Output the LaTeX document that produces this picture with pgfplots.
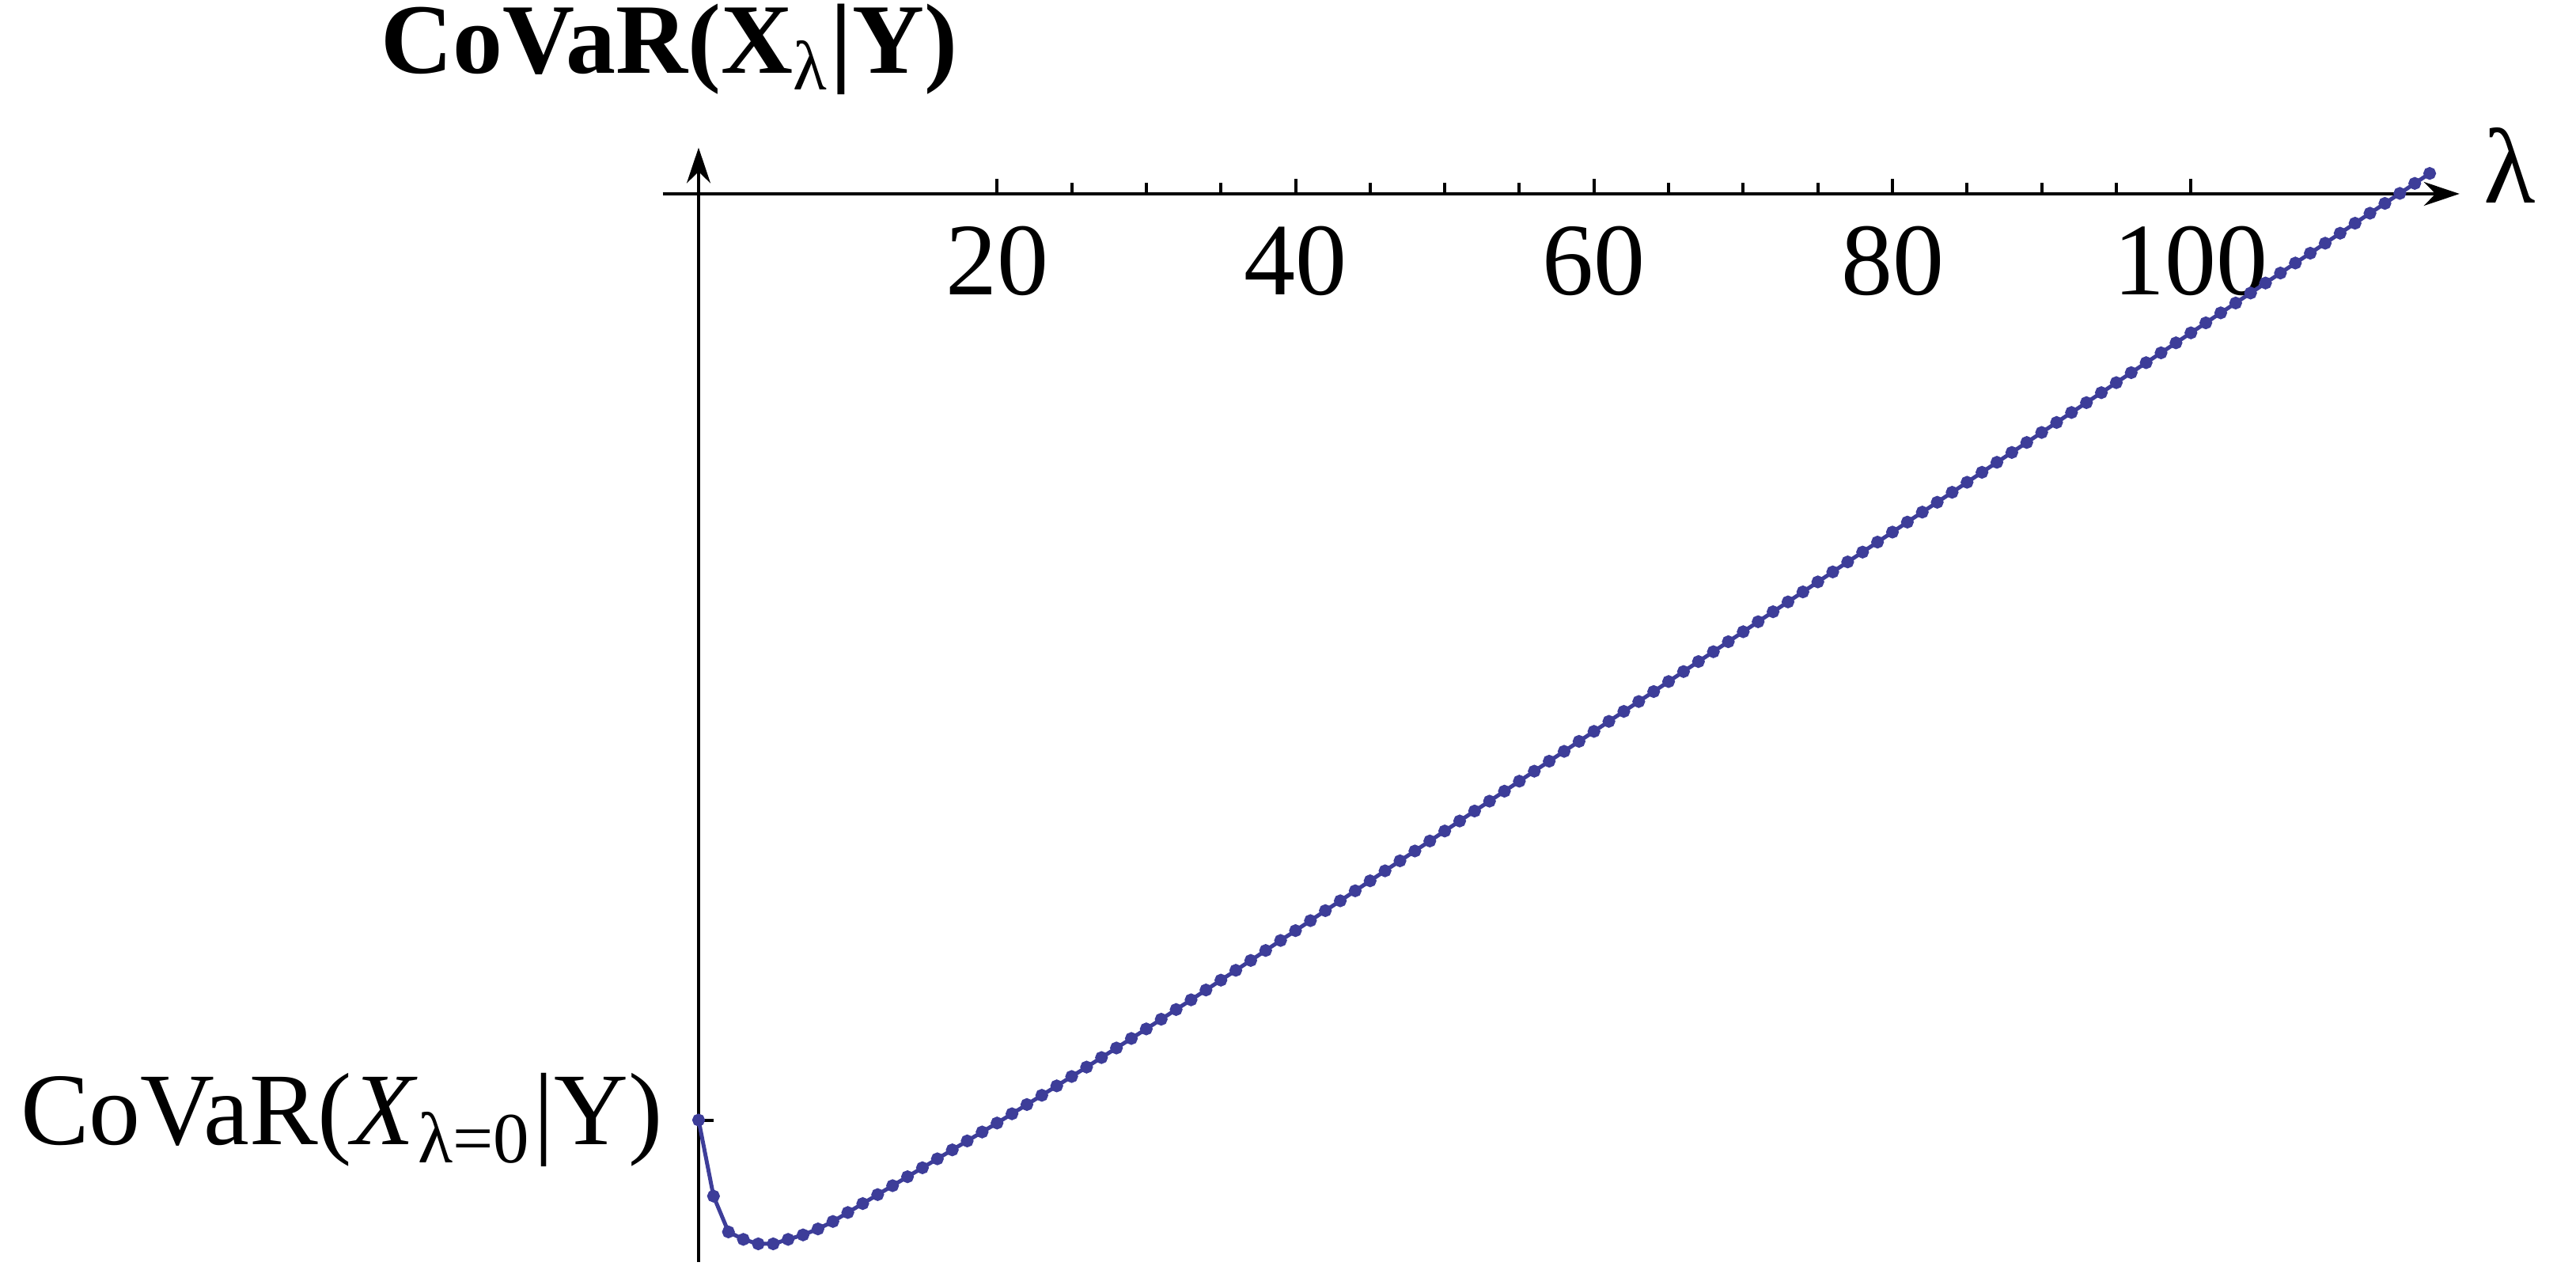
\documentclass[border=0pt]{standalone}
\usepackage{pgfplots}
\pgfplotsset{compat=1.18}
\usepackage{fontspec}
\setmainfont{Liberation Serif}
\usetikzlibrary{arrows.meta}
\definecolor{mmablue}{rgb}{0.24,0.24,0.6}

\begin{document}
\fontsize{13}{15.6}\selectfont
\begin{tikzpicture}
\begin{axis}[
    at={(0,0)}, anchor=origin,
    scale only axis,
    width=227.1pt, height=140.8pt,
    axis lines=middle,
    axis line style={line width=0.4pt, -{Stealth[length=4.5pt,width=3pt]}},
    xmin=-2.4, xmax=118,
    ymin=-71.6, ymax=3.1,
    xtick={20,40,60,80,100},
    minor x tick num=3,
    ytick={-62.1},
    yticklabels={CoVaR(\textit{X}\textsubscript{λ=0}|Y)},
    tick align=inside,
    major tick length=1.9pt,
    minor tick length=1.35pt,
    tick style={black, line width=0.4pt},
    /pgf/number format/assume math mode=true,
    ticklabel style={font=\fontsize{13}{15.6}\selectfont},
    xticklabel style={yshift=0.4pt},
    xlabel={λ},
    ylabel={\textbf{CoVaR(X}\textsubscript{λ}\textbf{|Y)}},
    xlabel style={at={(rel axis cs:1.028,0.984)}, anchor=center, font=\fontsize{13.5}{16}\selectfont},
    ylabel style={at={(rel axis cs:0.0037,1.088)}, anchor=center, rotate=0, font=\fontsize{12.6}{15}\selectfont},
    clip=false,
]
\addplot[color=mmablue, line width=0.5pt, mark=*, mark size=0.55pt,
         mark options={fill=mmablue, draw=mmablue}] table {
x y
0 -62.10
1 -67.20
2 -69.60
3 -70.10
4 -70.40
5 -70.40
6 -70.10
7 -69.80
8 -69.40
9 -68.90
10 -68.30
11 -67.70
12 -67.10
13 -66.50
14 -65.90
15 -65.30
16 -64.70
17 -64.10
18 -63.50
19 -62.90
20 -62.30
21 -61.68
22 -61.06
23 -60.44
24 -59.81
25 -59.18
26 -58.55
27 -57.91
28 -57.27
29 -56.63
30 -55.99
31 -55.34
32 -54.69
33 -54.04
34 -53.38
35 -52.72
36 -52.06
37 -51.40
38 -50.73
39 -50.06
40 -49.40
41 -48.73
42 -48.06
43 -47.40
44 -46.73
45 -46.06
46 -45.39
47 -44.72
48 -44.06
49 -43.39
50 -42.72
51 -42.05
52 -41.38
53 -40.72
54 -40.05
55 -39.38
56 -38.71
57 -38.04
58 -37.38
59 -36.71
60 -36.04
61 -35.37
62 -34.70
63 -34.04
64 -33.37
65 -32.70
66 -32.03
67 -31.36
68 -30.70
69 -30.03
70 -29.36
71 -28.69
72 -28.02
73 -27.36
74 -26.69
75 -26.02
76 -25.35
77 -24.68
78 -24.02
79 -23.35
80 -22.68
81 -22.01
82 -21.34
83 -20.68
84 -20.01
85 -19.34
86 -18.67
87 -18.00
88 -17.34
89 -16.67
90 -16.00
91 -15.33
92 -14.66
93 -14.00
94 -13.33
95 -12.66
96 -11.99
97 -11.32
98 -10.66
99 -9.99
100 -9.32
101 -8.65
102 -7.98
103 -7.32
104 -6.65
105 -5.98
106 -5.31
107 -4.64
108 -3.98
109 -3.31
110 -2.64
111 -1.97
112 -1.30
113 -0.64
114 0.03
115 0.70
116 1.37
};
\end{axis}
\pgfresetboundingbox
\path[use as bounding box] (-88.3pt,-137.9pt) rectangle (237.3pt,24.5pt);
\end{tikzpicture}
\end{document}
